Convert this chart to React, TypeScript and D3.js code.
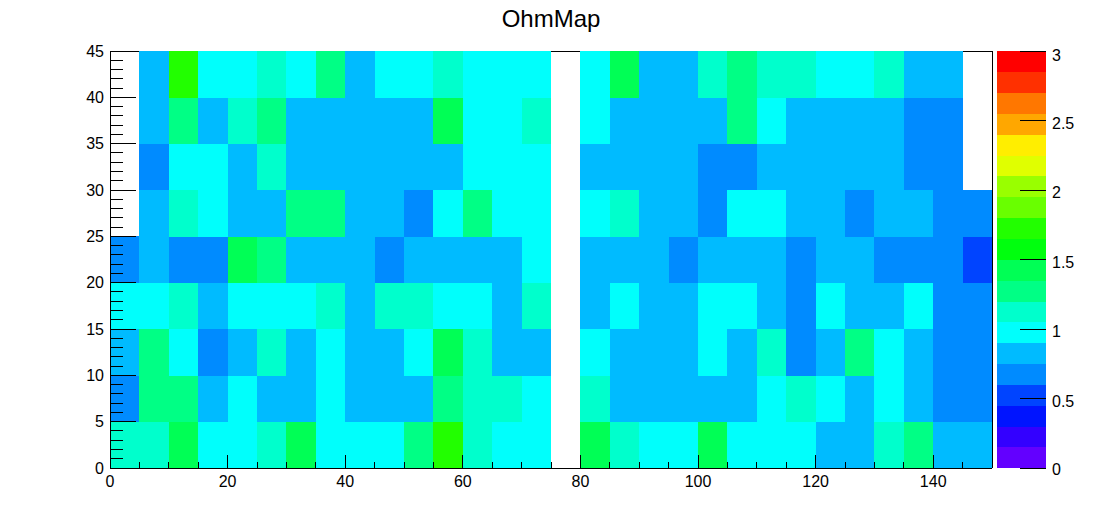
import React from "react";
import * as d3 from "d3";

// bin edges (5 units wide)
const xEdges = d3.range(0, 151, 5);
const yEdges = d3.range(0, 46, 5);

// ohm values per bin, one array per y row (x bins 0..150 step 5); 0 = empty bin
const rowY0 = [1.12, 1.12, 1.42, 0.97, 0.97, 1.12, 1.42, 0.97, 0.97, 0.97, 1.27, 1.72, 1.12, 0.97, 0.97, 0, 1.42, 1.12, 0.97, 0.97, 1.42, 0.97, 0.97, 0.97, 0.83, 0.83, 1.12, 1.27, 0.83, 0.83];
const rowY5 = [0.68, 1.27, 1.27, 0.83, 0.97, 0.83, 0.83, 0.97, 0.83, 0.83, 0.83, 1.27, 1.12, 1.12, 0.97, 0, 1.12, 0.83, 0.83, 0.83, 0.83, 0.83, 0.97, 1.12, 0.97, 0.83, 0.97, 0.83, 0.68, 0.68];
const rowY10 = [0.83, 1.27, 0.97, 0.68, 0.83, 1.12, 0.83, 0.97, 0.83, 0.83, 0.97, 1.42, 1.12, 0.83, 0.83, 0, 0.97, 0.83, 0.83, 0.83, 0.97, 0.83, 1.12, 0.68, 0.83, 1.27, 0.97, 0.83, 0.68, 0.68];
const rowY15 = [0.97, 0.97, 1.12, 0.83, 0.97, 0.97, 0.97, 1.12, 0.83, 1.12, 1.12, 0.97, 0.97, 0.83, 1.12, 0, 0.83, 0.97, 0.83, 0.83, 0.97, 0.97, 0.83, 0.68, 0.97, 0.83, 0.83, 0.97, 0.68, 0.68];
const rowY20 = [0.68, 0.83, 0.68, 0.68, 1.42, 1.27, 0.83, 0.83, 0.83, 0.68, 0.83, 0.83, 0.83, 0.83, 0.97, 0, 0.83, 0.83, 0.83, 0.68, 0.83, 0.83, 0.83, 0.68, 0.83, 0.83, 0.68, 0.68, 0.68, 0.52];
const rowY25 = [0, 0.83, 1.12, 0.97, 0.83, 0.83, 1.27, 1.27, 0.83, 0.83, 0.68, 0.97, 1.27, 0.97, 0.97, 0, 0.97, 1.12, 0.83, 0.83, 0.68, 0.97, 0.97, 0.83, 0.83, 0.68, 0.83, 0.83, 0.68, 0.68];
const rowY30 = [0, 0.68, 0.97, 0.97, 0.83, 1.12, 0.83, 0.83, 0.83, 0.83, 0.83, 0.83, 0.97, 0.97, 0.97, 0, 0.83, 0.83, 0.83, 0.83, 0.68, 0.68, 0.83, 0.83, 0.83, 0.83, 0.83, 0.68, 0.68, 0];
const rowY35 = [0, 0.83, 1.27, 0.83, 1.12, 1.27, 0.83, 0.83, 0.83, 0.83, 0.83, 1.42, 0.97, 0.97, 1.12, 0, 0.97, 0.83, 0.83, 0.83, 0.83, 1.27, 0.97, 0.83, 0.83, 0.83, 0.83, 0.68, 0.68, 0];
const rowY40 = [0, 0.83, 1.72, 0.97, 0.97, 1.12, 0.97, 1.27, 0.83, 0.97, 0.97, 1.12, 0.97, 0.97, 0.97, 0, 0.97, 1.42, 0.83, 0.83, 1.12, 1.27, 1.12, 1.12, 0.97, 0.97, 1.12, 0.83, 0.83, 0];
const rows = [rowY0, rowY5, rowY10, rowY15, rowY20, rowY25, rowY30, rowY35, rowY40];

const xTickLabels = [0, 20, 40, 60, 80, 100, 120, 140];
const yTickLabels = [0, 5, 10, 15, 20, 25, 30, 35, 40, 45];
const zTickLabels = [0, 0.5, 1, 1.5, 2, 2.5, 3];

const W = 1102;
const H = 522;
const frame = { left: 110, right: 992, top: 51, bottom: 468 };
const pal = { left: 997, right: 1046 };
const nLevels = 20;
const font = "'Liberation Sans', Arial, Helvetica, sans-serif";

// ROOT "pretty" palette: 50 hues from violet to red, sampled for 20 contours
const palette = d3.range(nLevels).map((k) => {
  const idx = Math.floor((k + 0.99) * 50 / nLevels);
  const hue = 280 - (idx + 1) * 5.6;
  return d3.hsl(hue, 1, 0.5).formatHex();
});

const App: React.FC = () => {
  const x = d3.scaleLinear().domain([0, 150]).range([frame.left, frame.right]);
  const y = d3.scaleLinear().domain([0, 45]).range([frame.bottom, frame.top]);
  const z = d3.scaleQuantize<string>().domain([0, 3]).range(palette);
  const zy = d3.scaleLinear().domain([0, 3]).range([frame.bottom, frame.top]);

  const cells: { x0: number; x1: number; y0: number; y1: number; v: number }[] = [];
  rows.forEach((row, j) => {
    row.forEach((v, i) => {
      if (v > 0) cells.push({ x0: xEdges[i], x1: xEdges[i + 1], y0: yEdges[j], y1: yEdges[j + 1], v });
    });
  });

  const xMinor = d3.range(0, 151, 5);
  const yMinor = d3.range(0, 46, 1);
  const xTickLen = 0.03 * (frame.bottom - frame.top);
  const yTickLen = 0.03 * (frame.right - frame.left);
  const bandStep = 3 / nLevels;

  return (
    <div style={{ position: "fixed", left: 0, top: 0, width: W, height: H, background: "#fff" }}>
      <svg width={W} height={H} style={{ display: "block" }}>
        <rect width={W} height={H} fill="#fff" />
        <text x={551} y={27} textAnchor="middle" fontFamily={font} fontSize={24} fill="#000">
          OhmMap
        </text>

        {/* top frame edge, covered by filled bins */}
        <line x1={frame.left} x2={frame.right} y1={frame.top + 0.5} y2={frame.top + 0.5} stroke="#000" />

        {cells.map((c, i) => (
          <rect
            key={i}
            x={x(c.x0)}
            y={y(c.y1)}
            width={x(c.x1) - x(c.x0) + 0.3}
            height={y(c.y0) - y(c.y1) + 0.3}
            fill={z(c.v)}
            shapeRendering="crispEdges"
          />
        ))}

        {/* frame */}
        <g stroke="#000" strokeWidth={1} shapeRendering="crispEdges">
          <line x1={frame.left} x2={frame.left} y1={frame.top} y2={frame.bottom} />
          <line x1={frame.left} x2={frame.right} y1={frame.bottom} y2={frame.bottom} />
          <line x1={frame.right} x2={frame.right} y1={frame.top} y2={frame.bottom} />
        </g>

        {/* x axis */}
        <g stroke="#000" shapeRendering="crispEdges">
          {xMinor.map((t) => (
            <line
              key={t}
              x1={x(t)}
              x2={x(t)}
              y1={frame.bottom}
              y2={frame.bottom - (t % 20 === 0 ? xTickLen : xTickLen / 2)}
            />
          ))}
        </g>
        {xTickLabels.map((t) => (
          <text key={t} x={x(t)} y={487} textAnchor="middle" fontFamily={font} fontSize={16} fill="#000">
            {t}
          </text>
        ))}

        {/* y axis */}
        <g stroke="#000" shapeRendering="crispEdges">
          {yMinor.map((t) => (
            <line
              key={t}
              x1={frame.left}
              x2={frame.left + (t % 5 === 0 ? yTickLen : yTickLen / 2)}
              y1={y(t)}
              y2={y(t)}
            />
          ))}
        </g>
        {yTickLabels.map((t) => (
          <text
            key={t}
            x={104}
            y={y(t)}
            dy="0.36em"
            textAnchor="end"
            fontFamily={font}
            fontSize={16}
            fill="#000"
          >
            {t}
          </text>
        ))}

        {/* palette */}
        {palette.map((c, k) => (
          <rect
            key={k}
            x={pal.left}
            y={zy((k + 1) * bandStep)}
            width={pal.right - pal.left}
            height={zy(k * bandStep) - zy((k + 1) * bandStep) + 0.3}
            fill={c}
            shapeRendering="crispEdges"
          />
        ))}
        <g stroke="#000" shapeRendering="crispEdges">
          {zTickLabels.map((t) => (
            <line key={t} x1={pal.right - yTickLen} x2={pal.right} y1={zy(t)} y2={zy(t)} />
          ))}
        </g>
        {zTickLabels.map((t) => (
          <text
            key={t}
            x={1052}
            y={zy(t)}
            dy={t === 0 ? "0.45em" : t === 3 ? "0.6em" : "0.5em"}
            fontFamily={font}
            fontSize={16}
            fill="#000"
          >
            {t}
          </text>
        ))}
      </svg>
    </div>
  );
};

export default App;
